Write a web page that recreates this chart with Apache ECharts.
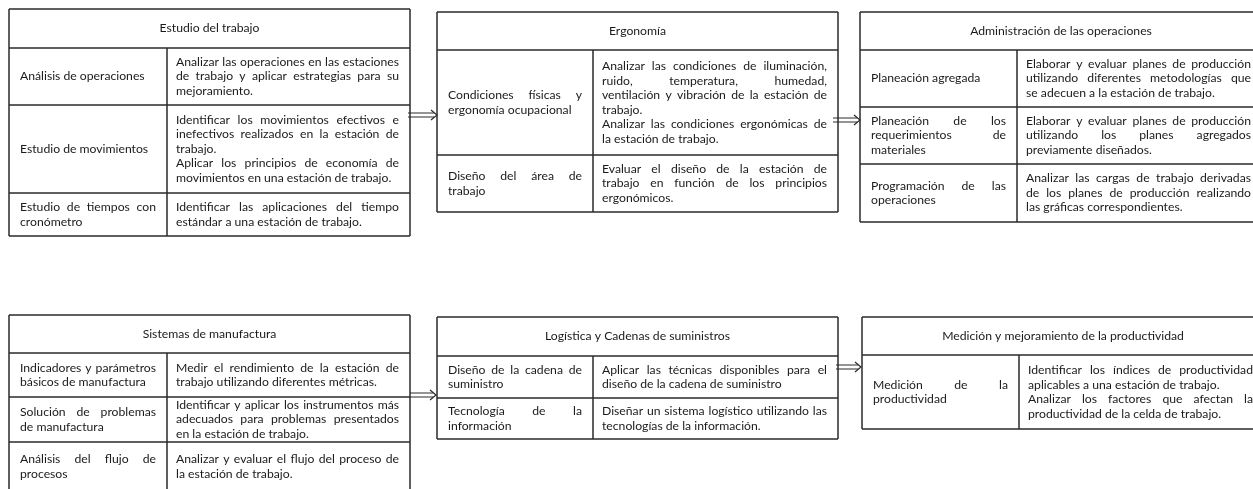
<!DOCTYPE html>
<html>
<head>
<meta charset="utf-8">
<script src="https://cdn.jsdelivr.net/npm/echarts@6/dist/echarts.min.js"></script>
<style>
html,body{margin:0;padding:0;background:#fff;}
#main{width:1253px;height:489px;}
</style>
</head>
<body>
<div id="main"></div>
<script>
// ---------------- DATA ----------------
const titles = [
  "Estudio del trabajo",
  "Ergonomía",
  "Administración de las operaciones",
  "Sistemas de manufactura",
  "Logística y Cadenas de suministros",
  "Medición y mejoramiento de la productividad"
];
// left column: each topic = list of paragraphs, each paragraph = list of lines
const topics = [
  [ [["Análisis de operaciones"]], [["Estudio de movimientos"]], [["Estudio de tiempos con","cronómetro"]] ],
  [ [["Condiciones físicas y","ergonomía ocupacional"]], [["Diseño del área de","trabajo"]] ],
  [ [["Planeación agregada"]], [["Planeación de los","requerimientos de","materiales"]], [["Programación de las","operaciones"]] ],
  [ [["Indicadores y parámetros","básicos de manufactura"]], [["Solución de problemas","de manufactura"]], [["Análisis del flujo de","procesos"]] ],
  [ [["Diseño de la cadena de","suministro"]], [["Tecnología de la","información"]] ],
  [ [["Medición de la","productividad"]] ]
];
const objectives = [
  [
    [["Analizar las operaciones en las estaciones","de trabajo y aplicar estrategias para su","mejoramiento."]],
    [["Identificar los movimientos efectivos e","inefectivos realizados en la estación de","trabajo."],["Aplicar los principios de economía de","movimientos en una estación de trabajo."]],
    [["Identificar las aplicaciones del tiempo","estándar a una estación de trabajo."]]
  ],
  [
    [["Analizar las condiciones de iluminación,","ruido, temperatura, humedad,","ventilación  y vibración de la estación de","trabajo."],["Analizar las condiciones ergonómicas de","la estación de trabajo."]],
    [["Evaluar el diseño de la estación de","trabajo en función de los principios","ergonómicos."]]
  ],
  [
    [["Elaborar y evaluar planes de producción","utilizando diferentes metodologías que","se adecuen a la estación de trabajo."]],
    [["Elaborar y evaluar planes de producción","utilizando los planes agregados","previamente diseñados."]],
    [["Analizar las cargas de trabajo derivadas","de los planes de producción realizando","las gráficas correspondientes."]]
  ],
  [
    [["Medir el rendimiento de la estación de","trabajo utilizando diferentes métricas."]],
    [["Identificar y aplicar los instrumentos más","adecuados para problemas presentados","en la estación de trabajo."]],
    [["Analizar y evaluar el flujo del proceso de","la estación de trabajo."]]
  ],
  [
    [["Aplicar las técnicas disponibles para el","diseño de la cadena de suministro"]],
    [["Diseñar un sistema logístico utilizando las","tecnologías de la información."]]
  ],
  [
    [["Identificar los índices de productividad","aplicables a una estación de trabajo."],["Analizar los factores que afectan la","productividad de la celda de trabajo."]]
  ]
];
// flow arrows: from block index -> to block index
const flows = [[0,1],[1,2],[3,4],[4,5]];

// ---------------- LAYOUT ----------------
const boxX     = [9, 437, 860, 9, 437, 862];
const boxY     = [9, 12, 12, 315, 317, 317];
const boxW     = [401, 401, 402, 401, 401, 402];
const splitW   = [158, 156, 157, 158, 156, 157];
const headerH  = [39, 38, 38, 38, 39, 38];
const rowH     = [[57,88,43],[105,57],[57,57,58],[44,45,49],[42,41],[74]];
const arrowY   = [115, 120, 395, 367];
const arrowX0  = [408, 833, 410, 836];
const arrowX1  = [437, 860, 436, 861];

const FONT = 'Lato';
const TEXT_COLOR = '#1a1a1a';
const LINE_COLOR = '#2a2a2a';
const LW = 1.5;
const LH = 14.5;

const cv = document.createElement('canvas');
const ctx = cv.getContext('2d');
function tw(s, size){ ctx.font = size + 'px ' + FONT; return ctx.measureText(s).width; }
const FS = Math.round(12 * 125 / tw('Análisis de operaciones', 12) * 10) / 10;

const els = [];
function line(x1,y1,x2,y2){
  els.push({type:'line', shape:{x1,y1,x2,y2}, style:{stroke:LINE_COLOR, lineWidth:LW}, silent:true});
}
function txt(s, x, y, align){
  els.push({type:'text', x, y, silent:true,
    style:{text:s, fill:TEXT_COLOR, font: FS + 'px ' + FONT, fontSize:FS, fontFamily:FONT,
      align: align || 'left', verticalAlign:'middle', textAlign: align || 'left', textVerticalAlign:'middle'}});
}
function cell(paragraphs, left, width, cy){
  const lines = [];
  paragraphs.forEach(p => p.forEach((l,i) => lines.push({t:l, j: i < p.length-1})));
  const y0 = cy - (lines.length-1)*LH/2;
  lines.forEach((ln, k) => {
    const y = y0 + k*LH;
    const words = ln.t.split(/\s+/).filter(w => w.length);
    if (!ln.j || words.length < 2) { txt(ln.t, left, y); return; }
    const ws = words.map(w => tw(w, FS));
    const sum = ws.reduce((a,b)=>a+b,0);
    const gap = (width - sum) / (words.length - 1);
    let x = left;
    words.forEach((w,i) => { txt(w, x, y); x += ws[i] + gap; });
  });
}

titles.forEach((title, b) => {
  const x = boxX[b], y = boxY[b], w = boxW[b];
  const total = headerH[b] + rowH[b].reduce((a,c)=>a+c,0);
  const bottom = y + total;
  const right = x + w;
  const sx = x + splitW[b];
  line(x, y, right, y);
  line(x, y, x, bottom);
  line(right, y, right, bottom);
  line(x, bottom, right, bottom);
  const hb = y + headerH[b];
  line(x, hb, right, hb);
  txt(title, x + w/2, y + headerH[b]/2, 'center');
  line(sx, hb, sx, bottom);
  let ry = hb;
  rowH[b].forEach((h, r) => {
    const cy = ry + h/2;
    cell(topics[b][r], x + 11, splitW[b] - 22, cy);
    cell(objectives[b][r], sx + 9, w - splitW[b] - 20, cy);
    ry += h;
    if (r < rowH[b].length - 1) line(x, ry, right, ry);
  });
});

flows.forEach((f, i) => {
  const x0 = arrowX0[i], x1 = arrowX1[i], y = arrowY[i];
  els.push({type:'line', shape:{x1:x0, y1:y-2, x2:x1-3, y2:y-2}, style:{stroke:LINE_COLOR, lineWidth:1}, silent:true});
  els.push({type:'line', shape:{x1:x0, y1:y+2, x2:x1-3, y2:y+2}, style:{stroke:LINE_COLOR, lineWidth:1}, silent:true});
  els.push({type:'polyline', shape:{points:[[x1-6,y-5],[x1,y],[x1-6,y+5]]}, style:{stroke:LINE_COLOR, lineWidth:1.2, fill:'none'}, silent:true});
});

const chart = echarts.init(document.getElementById('main'), null, {renderer:'canvas'});
chart.setOption({
  backgroundColor:'#ffffff',
  animation:false,
  graphic:{elements: els}
});
</script>
</body>
</html>
